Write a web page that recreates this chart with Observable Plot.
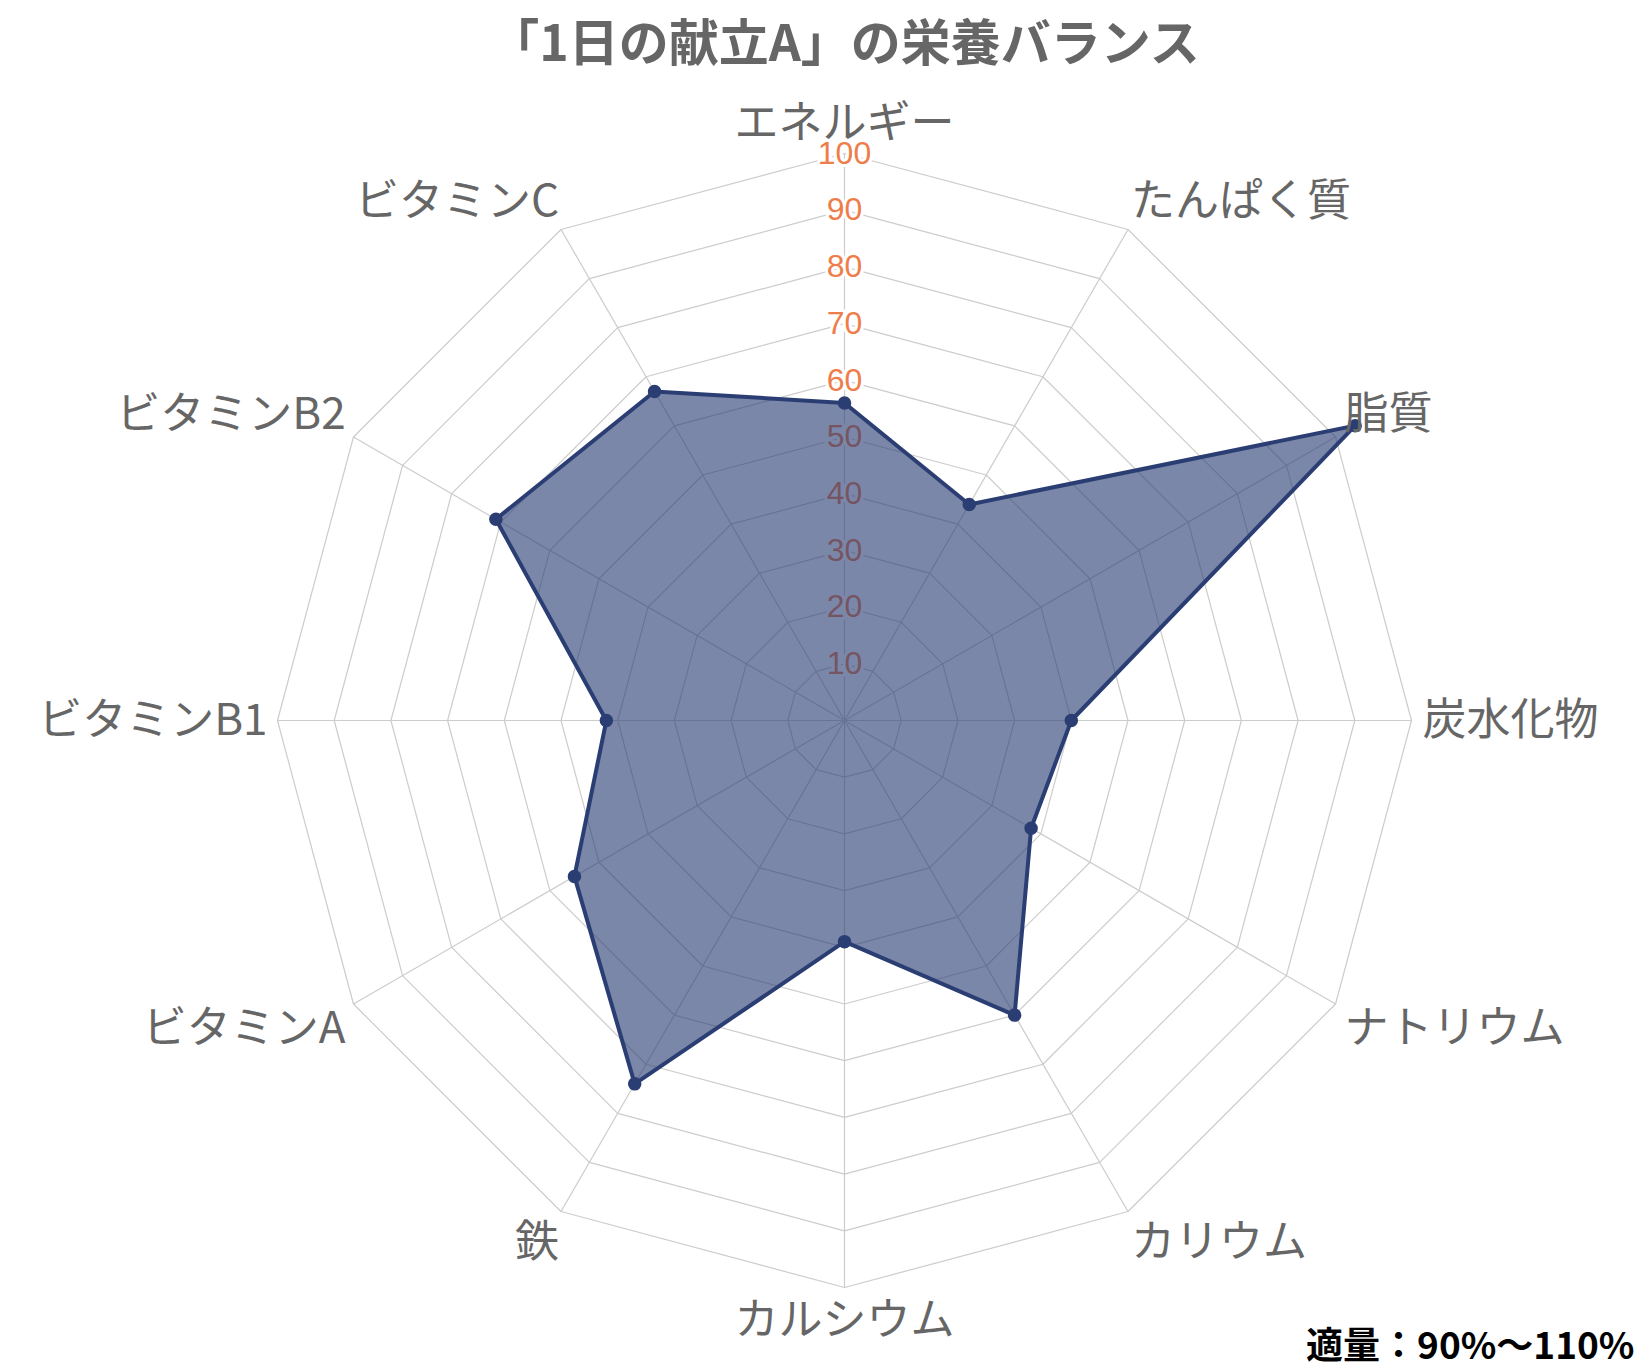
<!DOCTYPE html>
<html>
<head>
<meta charset="utf-8">
<script src="https://cdn.jsdelivr.net/npm/d3@7"></script>
<script src="https://cdn.jsdelivr.net/npm/@observablehq/plot@0.6"></script>
<style>
  html, body { margin: 0; padding: 0; background: #fff; }
  #chart svg { display: block; }
</style>
</head>
<body>
<div id="chart"></div>
<script>
// ---- data ----
const titleText = "「1日の献立A」の栄養バランス";
const noteText = "適量：90%〜110%";
const categories = ["エネルギー", "たんぱく質", "脂質", "炭水化物", "ナトリウム", "カリウム",
                    "カルシウム", "鉄", "ビタミンA", "ビタミンB1", "ビタミンB2", "ビタミンC"];
const values = [56, 44, 104, 40, 38, 60, 39, 74, 55, 42, 71, 67];
const tickValues = [10, 20, 30, 40, 50, 60, 70, 80, 90, 100];
const maxValue = 100;

// ---- layout ----
const W = 1644, H = 1368;
const cx = 844, cy = 720, R = 567;   // pixels for maxValue
const k = R / maxValue;
const fontJP = "'Noto Sans CJK JP', 'Noto Sans', sans-serif";

const n = categories.length;
const ang = i => (i * 2 * Math.PI) / n; // clockwise from top
const px = (i, v) => v * Math.sin(ang(i));
const py = (i, v) => v * Math.cos(ang(i));

// grid rings
const rings = [];
for (const t of tickValues) for (let i = 0; i < n; i++) rings.push({level: t, x: px(i, t), y: py(i, t)});
// spokes
const spokes = categories.map((c, i) => ({x1: 0, y1: 0, x2: px(i, maxValue), y2: py(i, maxValue)}));
// data points
const pts = categories.map((c, i) => ({name: c, value: values[i], x: px(i, values[i]), y: py(i, values[i])}));
// label positions (slightly outside the outer ring)
const labelPad = 16 / k;
const labels = categories.map((c, i) => {
  const a = ang(i);
  const deg = Math.round(a * 180 / Math.PI);
  const anchor = (deg === 0 || deg === 180) ? "middle" : (deg < 180 ? "start" : "end");
  let base;
  if (deg === 90 || deg === 270) base = "middle";
  else if (deg < 90 || deg > 270) base = "bottom";
  else base = "top";
  return {name: c, x: px(i, maxValue + labelPad), y: py(i, maxValue + labelPad), anchor, base};
});
const anchorDx = {start: -5, middle: 0, end: 6};

const fillColor = "#2a3d72";

const chart = Plot.plot({
  width: W,
  height: H,
  margin: 0,
  x: {domain: [-cx / k, (W - cx) / k], range: [0, W], axis: null},
  y: {domain: [cy / k, -(H - cy) / k], range: [0, H], axis: null},
  style: {fontFamily: fontJP, background: "#fff"},
  marks: [
    Plot.line(rings, {x: "x", y: "y", z: "level", curve: "linear-closed", stroke: "#cccccc", strokeWidth: 1.2}),
    Plot.link(spokes, {x1: "x1", y1: "y1", x2: "x2", y2: "y2", stroke: "#cccccc", strokeWidth: 1.2}),
    Plot.text(tickValues, {x: 0, y: d => d, text: d => String(d), fill: "#ef7d4a",
      stroke: "white", strokeWidth: 6, fontSize: 32, fontFamily: "'Liberation Sans', Arial, sans-serif", textAnchor: "middle"}),
    Plot.line(pts, {x: "x", y: "y", curve: "linear-closed", fill: fillColor, fillOpacity: 0.62, stroke: "none"}),
    Plot.line(pts, {x: "x", y: "y", curve: "linear-closed", stroke: "#2b3e74", strokeWidth: 4, strokeLinejoin: "round"}),
    Plot.dot(pts, {x: "x", y: "y", r: 6, fill: "#2b3e74", stroke: "#2b3e74"}),
    ...["start", "middle", "end"].flatMap(an => ["top", "middle", "bottom"].map(bs =>
      Plot.text(labels.filter(d => d.anchor === an && d.base === bs), {
        x: "x", y: "y", text: "name", textAnchor: an, lineAnchor: bs, dx: anchorDx[an],
        fill: "#666666", fontSize: 44, fontFamily: fontJP
      })
    )),
    Plot.text([titleText], {frameAnchor: "top", dy: 25, dx: 22, text: d => d, fontSize: 50, fontWeight: "bold",
      fill: "#666666", fontFamily: fontJP, lineAnchor: "top"}),
    Plot.text([noteText], {frameAnchor: "bottom-right", dx: -10, dy: -10, text: d => d, fontSize: 37, fontWeight: "bold",
      fill: "#000000", fontFamily: fontJP, lineAnchor: "bottom", textAnchor: "end"})
  ]
});
document.getElementById("chart").appendChild(chart);
</script>
</body>
</html>
